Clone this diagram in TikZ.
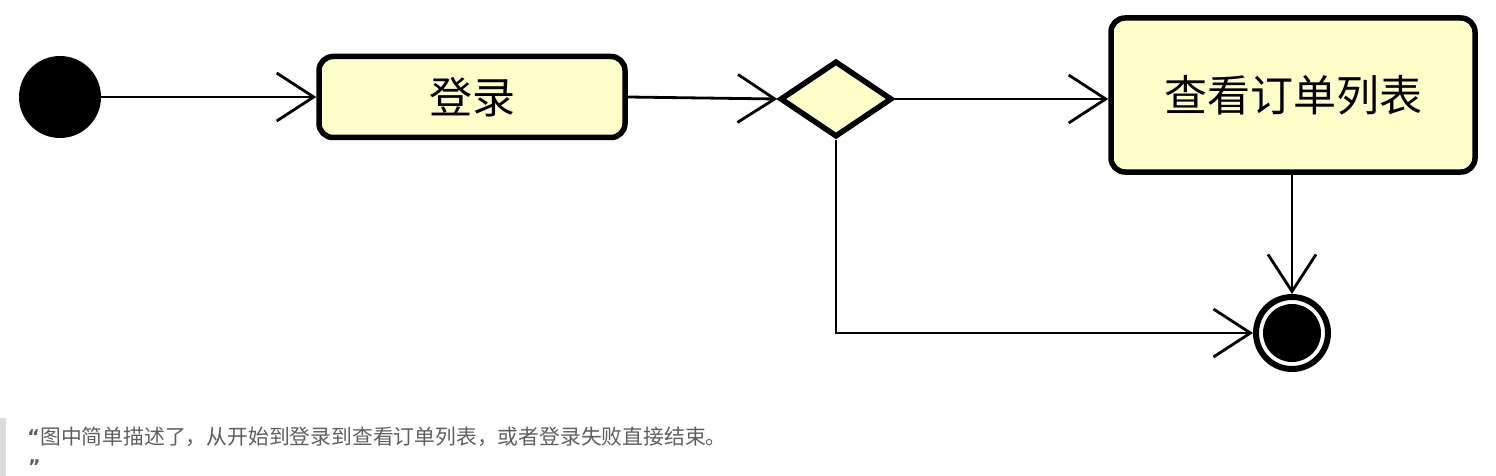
\documentclass[tikz,border=0pt]{standalone}
\usepackage{fontspec}
\newfontfamily\cjk{Noto Sans CJK SC}
\newfontfamily\qfont{DejaVu Sans}
\usetikzlibrary{arrows.meta,shapes.geometric}
\definecolor{actfill}{HTML}{FEFEC8}
\definecolor{capgray}{HTML}{5E5E5E}
\definecolor{bargray}{HTML}{DDDDDD}
\begin{document}
\begin{tikzpicture}[x=1pt,y=-1pt,
	act/.style={draw, line width=5.5pt, fill=actfill, rounded corners=14pt, inner sep=0pt, font=\cjk\fontsize{43}{50}\selectfont},
	flow/.style={line width=2.8pt, -{Straight Barb[length=37pt,width=48pt,line width=2.8pt]}}]
	\useasboundingbox (0,0) rectangle (1496,476);
	% nodes
	\node[circle, fill=black, minimum size=82pt, inner sep=0pt] (start) at (60,97) {};
	\node[act, minimum width=306pt, minimum height=81pt] (login) at (472,97) {登录};
	\node[diamond, draw, line width=5.5pt, fill=actfill, minimum width=112pt, minimum height=76pt, inner sep=0pt] (dec) at (836,99) {};
	\node[act, minimum width=364pt, minimum height=154pt] (list) at (1293,95) {查看订单列表};
	\node[circle, draw, line width=6pt, fill=white, minimum size=72pt, inner sep=0pt,
		path picture={\fill[black] (path picture bounding box.center) circle (29pt);}] (end) at (1292,333) {};
	% connectors
	\draw[flow] (start.east) -- (login.west);
	\draw[flow] (login.east) -- (dec.west);
	\draw[flow] (dec.east) -- (dec.east -| list.west);
	\draw[flow] (list.south -| end.north) -- (end.north);
	\draw[flow] (dec.south) |- (end.west);
	% caption
	\fill[bargray] (0,418) rectangle (6,476);
	\node[anchor=west, inner sep=0pt, text=capgray, font=\cjk\fontsize{20.8}{25}\selectfont] (cap) at (40,437) {图中简单描述了，从开始到登录到查看订单列表，或者登录失败直接结束。};
	\node[anchor=east, inner sep=0pt, text=capgray, font=\qfont\bfseries\fontsize{19}{20}\selectfont] (qopen) at (cap.west) {“};
	\node[anchor=west, inner sep=0pt, text=capgray, font=\qfont\bfseries\fontsize{19}{20}\selectfont] (qclose) at (28,467) {”};
\end{tikzpicture}
\end{document}
